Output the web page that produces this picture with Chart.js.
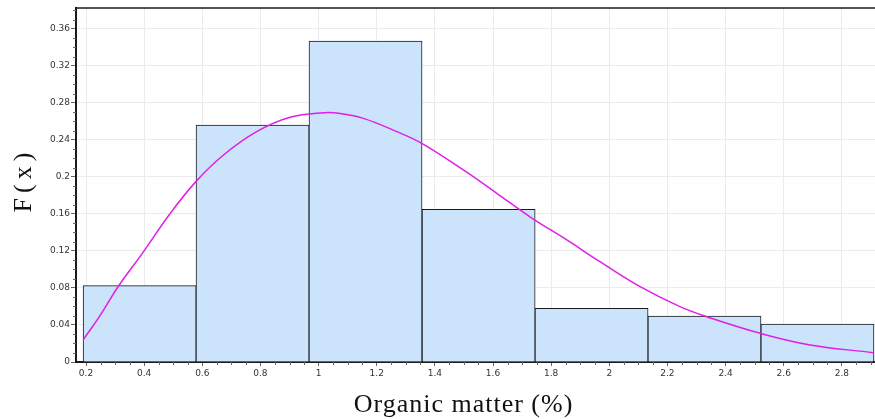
<!DOCTYPE html>
<html>
<head>
<meta charset="utf-8">
<script src="https://cdn.jsdelivr.net/npm/chart.js@4.4.0/dist/chart.umd.min.js"></script>
<style>
html,body{margin:0;padding:0;background:#fff;}
#wrap{width:875px;height:419px;position:relative;}
</style>
</head>
<body>
<div id="wrap"><canvas id="c" width="875" height="419"></canvas></div>
<script>
// ---- data ----
const binEdges = [0.19, 0.579, 0.967, 1.356, 1.745, 2.133, 2.522, 2.91];
const binFreq  = [0.0825, 0.256, 0.347, 0.165, 0.058, 0.0497, 0.041];
const curveX = [0.19, 0.25, 0.312, 0.395, 0.487, 0.578, 0.672, 0.787, 0.902, 1.02, 1.07, 1.154, 1.269, 1.355, 1.498, 1.613, 1.727, 1.854, 1.968, 2.106, 2.243, 2.335, 2.519, 2.691, 2.908];
const curveY = [0.0238, 0.051, 0.0822, 0.118, 0.1595, 0.195, 0.2235, 0.249, 0.2645, 0.2695, 0.2688, 0.2634, 0.249, 0.2364, 0.2076, 0.1824, 0.157, 0.1319, 0.1084, 0.0814, 0.0598, 0.049, 0.031, 0.0184, 0.0101];
const xRange = [0.1656, 2.914];
const yRange = [0, 0.3827];
const xStep = 0.2, yStep = 0.04;
const xMinorStep = 0.05, yMinorStep = 0.01;
const xTitle = 'Organic matter (%)';
const yTitle = 'F(x)';

const barData = binFreq.map((v, i) => ({x: (binEdges[i] + binEdges[i + 1]) / 2, y: v}));
const curveData = curveX.map((x, i) => ({x: x, y: curveY[i]}));

const fmt = v => String(+Number(v).toFixed(2));

const decorPlugin = {
  id: 'decor',
  afterDraw(chart) {
    const ctx = chart.ctx, a = chart.chartArea;
    const xs = chart.scales.x, ys = chart.scales.y;
    ctx.save();
    // top frame line
    ctx.strokeStyle = '#1a1a1a';
    ctx.lineWidth = 1.5;
    ctx.beginPath(); ctx.moveTo(a.left, a.top); ctx.lineTo(a.right, a.top); ctx.stroke();
    // minor ticks
    ctx.strokeStyle = '#666';
    ctx.lineWidth = 1;
    ctx.beginPath();
    for (let k = 1; k * yMinorStep <= yRange[1]; k++) {
      if (k % 4 === 0) continue;
      const py = Math.round(ys.getPixelForValue(k * yMinorStep)) + 0.5;
      ctx.moveTo(a.left - 3, py); ctx.lineTo(a.left, py);
    }
    for (let k = 4; k * xMinorStep <= xRange[1]; k++) {
      if (k % 4 === 0) continue;
      const px = Math.round(xs.getPixelForValue(k * xMinorStep)) + 0.5;
      ctx.moveTo(px, a.bottom); ctx.lineTo(px, a.bottom + 3);
    }
    ctx.stroke();
    // axis titles
    ctx.fillStyle = '#111';
    ctx.font = '26px "Liberation Serif", "Times New Roman", serif';
    ctx.textAlign = 'center';
    ctx.textBaseline = 'alphabetic';
    try { ctx.letterSpacing = '1px'; } catch (e) {}
    ctx.fillText(xTitle, (a.left + a.right) / 2 - 12, 412);
    ctx.save();
    try { ctx.letterSpacing = '5px'; } catch (e) {}
    ctx.translate(31, 180);
    ctx.rotate(-Math.PI / 2);
    ctx.fillText(yTitle, 0, 0);
    ctx.restore();
    ctx.restore();
  }
};

new Chart(document.getElementById('c'), {
  type: 'bar',
  data: {
    datasets: [
      {
        type: 'line',
        data: curveData,
        xAxisID: 'x',
        yAxisID: 'y',
        borderColor: '#e11ee6',
        borderWidth: 1.5,
        pointRadius: 0,
        fill: false,
        tension: 0.4,
        order: 0
      },
      {
        type: 'bar',
        data: barData,
        xAxisID: 'xb',
        yAxisID: 'y',
        backgroundColor: '#cbe3fb',
        borderColor: '#1a1a1a',
        borderWidth: 1,
        borderSkipped: 'bottom',
        grouped: false,
        barPercentage: 1,
        categoryPercentage: 1,
        barThickness: c => {
          const s = c.chart.scales.xb;
          return s.getPixelForValue(binEdges[1]) - s.getPixelForValue(binEdges[0]);
        },
        order: 1
      }
    ]
  },
  options: {
    responsive: false,
    animation: false,
    devicePixelRatio: 1,
    layout: {padding: {left: 46, top: 8, right: 0, bottom: 0}},
    plugins: {legend: {display: false}, tooltip: {enabled: false}},
    scales: {
      x: {
        type: 'linear',
        position: 'bottom',
        offset: false,
        min: xRange[0], max: xRange[1],
        afterFit: s => { s.height = 57; },
        ticks: {
          stepSize: xStep, includeBounds: false, autoSkip: false, maxRotation: 0,
          padding: 2, color: '#333',
          font: {family: '"DejaVu Sans", sans-serif', size: 9},
          callback: v => fmt(v)
        },
        grid: {offset: false, color: '#ebebeb', borderDash: [2, 2], tickLength: 4, tickColor: '#666', tickBorderDash: [], tickWidth: 1},
        border: {display: true, color: '#1a1a1a', width: 2}
      },
      xb: {
        type: 'linear',
        display: false,
        offset: false,
        grid: {offset: false},
        min: xRange[0], max: xRange[1],
        afterBuildTicks: s => { s.ticks = []; }
      },
      y: {
        type: 'linear',
        position: 'left',
        min: yRange[0], max: yRange[1],
        afterFit: s => { s.width = 30; },
        ticks: {
          stepSize: yStep, includeBounds: false, padding: 1, color: '#333',
          font: {family: '"DejaVu Sans", sans-serif', size: 9},
          callback: v => fmt(v)
        },
        grid: {color: '#ebebeb', borderDash: [2, 2], tickLength: 5, tickColor: '#666', tickBorderDash: [], tickWidth: 1},
        border: {display: true, color: '#1a1a1a', width: 2}
      }
    }
  },
  plugins: [decorPlugin]
});
</script>
</body>
</html>
